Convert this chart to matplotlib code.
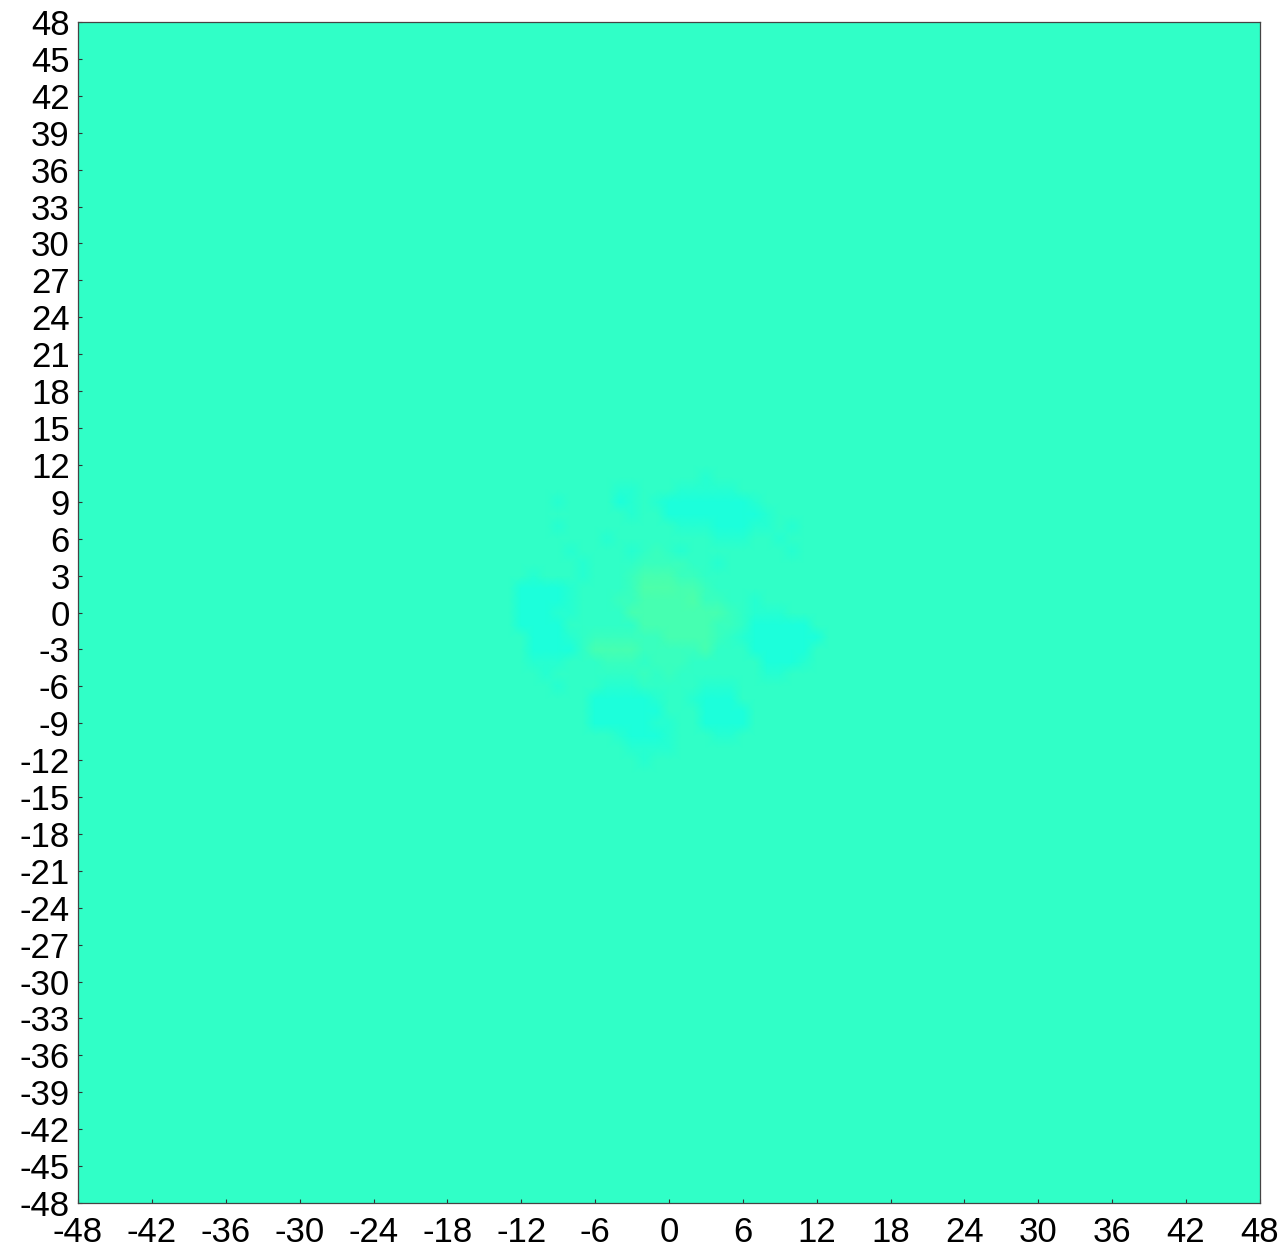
import numpy as np
import matplotlib
matplotlib.use("Agg")
import matplotlib.pyplot as plt

# Axis ranges and ticks
x_ticks = list(range(-48, 49, 6))
y_ticks = list(range(-48, 49, 3))
grid_x = np.arange(-48, 49)
grid_y = np.arange(-48, 49)

# Central disturbance, read cell by cell (1 unit cells), x from -13 to 14,
# rows from y = 11 (top) down to y = -12 (bottom)
blob_x0 = -13
blob_y_top = 11
blob_rows = [
    "................c...........",
    ".........cc...ccccc.........",
    "....c....Cc.cCCCCCCCc.......",
    "..........c..CCCCCCCCc......",
    "....c.........cccCCCcc.c....",
    "........c........ccc..c.....",
    ".....c....c.g.c........c....",
    "......c....gggg..c..........",
    "..c...c...gGGGgg............",
    ".CCCCc....gYYYGGg...........",
    ".CCCCc...ggGGGGYgg..c.......",
    ".CCCcc....GGGGGGGGg.ccc.....",
    ".CCCC......GGGGGGgg.CCCCC...",
    "..CCCc.ggggggGGGGg.cCCCCCC..",
    "..CCCC.GGGGgggggG...CCCCC...",
    "..ccc...ggg.ggg......CCCc...",
    "...c.......g.g.......cc.....",
    "....c...ccc.....ccc.........",
    ".......CCCCCc..cCCC.........",
    ".......CCCCCC...CCCC........",
    ".......CCCCCcc..CCCC........",
    ".........cCCCc...cc.........",
    "..........cccc..............",
    "...........c................",
]
level_values = {".": 0.0, "c": -0.9, "C": -1.7, "g": 1.1, "G": 2.0, "Y": 2.8}

Z = np.zeros((len(grid_y), len(grid_x)))
for r, row in enumerate(blob_rows):
    yv = blob_y_top - r
    for c, ch in enumerate(row):
        xv = blob_x0 + c
        Z[yv + 48, xv + 48] = level_values[ch]

plt.rcParams['font.family'] = ['Liberation Sans', 'DejaVu Sans']
fig = plt.figure(figsize=(12.88, 12.55), dpi=100)
ax = fig.add_axes([0.0606, 0.0414, 0.9176, 0.9411])

X, Y = np.meshgrid(grid_x, grid_y)
vmin = -30.15
vmax = 43.93
ax.pcolormesh(X, Y, Z, shading='gouraud', cmap='jet', vmin=vmin, vmax=vmax)

ax.set_xlim(-48, 48)
ax.set_ylim(-48, 48)
ax.set_xticks(x_ticks)
ax.set_yticks(y_ticks)
ax.set_xticklabels([str(t) for t in x_ticks])
ax.set_yticklabels([str(t) for t in y_ticks])
ax.tick_params(direction='in', length=3, width=0.8, labelsize=25,
               colors='#333333', labelcolor='black')
ax.tick_params(axis='x', pad=9)
ax.tick_params(axis='y', pad=6)
for s in ax.spines.values():
    s.set_color('#444444')
    s.set_linewidth(0.9)

fig.savefig("out.png", dpi=100)
